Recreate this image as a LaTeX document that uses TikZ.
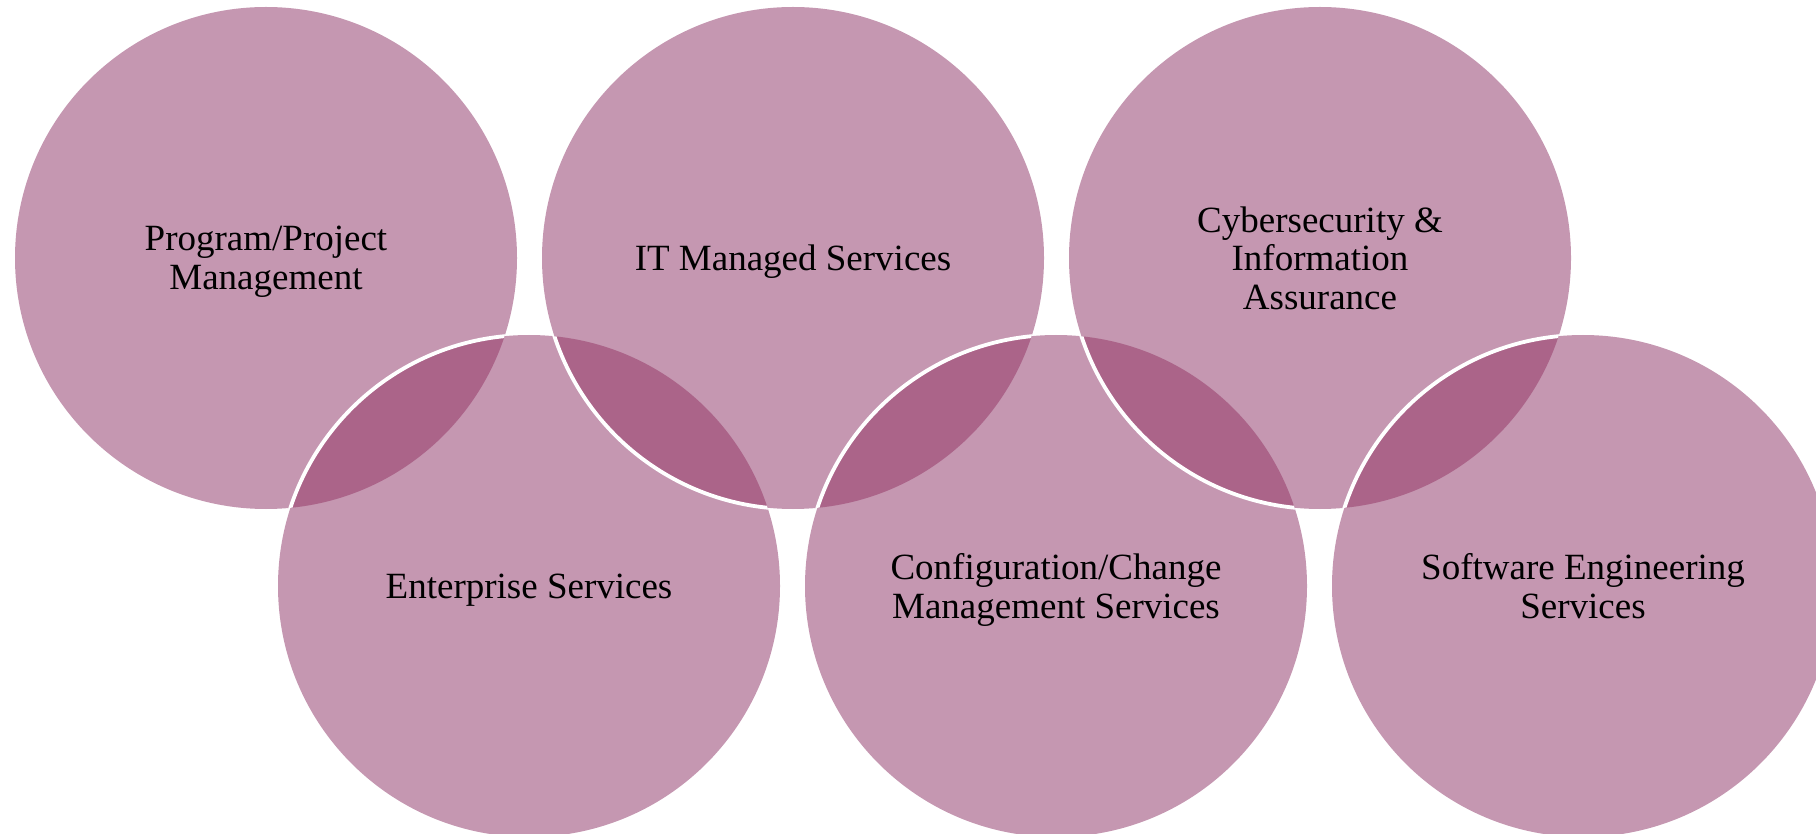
\documentclass[tikz,border=0pt]{standalone}
\usepackage{fontspec}
\setmainfont{Liberation Serif}

\definecolor{venn}{HTML}{C597B1}
\definecolor{vennlap}{HTML}{AB6489}

\tikzset{
  disc/.style={circle,fill=venn,minimum size=502pt,inner sep=0pt,
    text depth=0pt,align=center,font=\fontsize{37}{38.5}\selectfont},
  rim/.style={draw=white,line width=3.8pt}
}

\begin{document}
\begin{tikzpicture}[x=1pt,y=-1pt]

      \useasboundingbox (0,0) rectangle (1816,834);
      \clip (0,0) rectangle (1816,834);

      \begin{scope}[every node/.style={disc}]
        \node (pm) at (266,258)  {Program/Project\\Management};
        \node (es) at (529,586)  {Enterprise Services};
        \node (it) at (793,258)  {IT Managed Services};
        \node (cm) at (1056,586) {Configuration/Change\\Management Services};
        \node (cy) at (1320,258) {Cybersecurity \&\\Information\\Assurance};
        \node (se) at (1583,586) {Software Engineering\\Services};
      \end{scope}

      % overlaps, and the white rim of the later disc
      \foreach \a/\b in {pm/es,es/it,it/cm,cm/cy,cy/se} {
        \begin{scope}
          \clip (\a.center) circle[radius=251];
          \fill[vennlap] (\b.center) circle[radius=251];
          \path[rim] (\b.center) circle[radius=251];
        \end{scope}
      }

    \end{tikzpicture}
\end{document}
